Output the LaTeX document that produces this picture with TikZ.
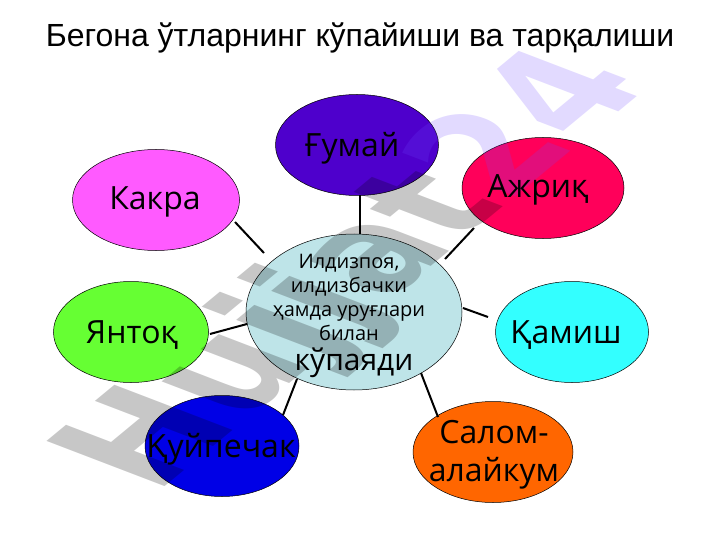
\documentclass[tikz,border=0pt]{standalone}
\usepackage{fontspec}
\setmainfont{Open Sans}
\newfontfamily\ttlfont{Liberation Sans}
\newfontfamily\wmfont{DejaVu Sans}
\usetikzlibrary{shapes.geometric}
\definecolor{cPurple}{RGB}{78,0,204}
\definecolor{cRed}{RGB}{255,0,90}
\definecolor{cPink}{RGB}{255,90,255}
\definecolor{cGreen}{RGB}{102,255,51}
\definecolor{cCyan}{RGB}{51,255,255}
\definecolor{cBlue}{RGB}{0,0,230}
\definecolor{cOrange}{RGB}{255,102,0}
\definecolor{cCentre}{RGB}{190,228,232}
\definecolor{cViolet}{RGB}{110,70,255}
\tikzset{
  blob/.style={ellipse,draw=black,line width=0.5pt,minimum height=101pt,inner sep=0pt},
  lbl/.style={text=black,align=center,inner sep=0pt,font=\fontsize{32}{34}\selectfont},
  small/.style={text=black,align=center,inner sep=0pt,font=\fontsize{20}{24}\selectfont},
  spoke/.style={draw=black,line width=2pt},
  wmk/.style={font=\wmfont\bfseries\fontsize{100}{100}\selectfont,anchor=base west,inner sep=0pt,transform shape}
}
\begin{document}
\begin{tikzpicture}[x=1pt,y=-1pt]
\useasboundingbox (0,0) rectangle (720,540);
\fill[white] (0,0) rectangle (720,540);
% ellipses
\node[blob,fill=cPurple,minimum width=163pt] (e1) at (357,145) {};
\node[blob,fill=cRed,minimum width=162pt] (e2) at (543,188) {};
\node[blob,fill=cPink,minimum width=167pt] (e3) at (156,200) {};
\node[blob,fill=cGreen,minimum width=155pt] (e4) at (131,332) {};
\node[blob,fill=cCyan,minimum width=153pt] (e5) at (572,332) {};
\node[blob,fill=cBlue,minimum width=154pt] (e6) at (222,446) {};
\node[blob,fill=cOrange,minimum width=160pt] (e7) at (493,452) {};
\node[blob,fill=cCentre,minimum width=216pt,minimum height=156pt] (c) at (354,312) {};
% spokes
\coordinate (s1a) at (360,195); \coordinate (s1b) at (360,234);
\coordinate (s2a) at (474,228); \coordinate (s2b) at (445,259);
\coordinate (s3a) at (235,222); \coordinate (s3b) at (264,253);
\coordinate (s4a) at (210,334); \coordinate (s4b) at (247,324);
\coordinate (s5a) at (488,317); \coordinate (s5b) at (463,308);
\coordinate (s6a) at (283,415); \coordinate (s6b) at (297,379);
\coordinate (s7a) at (438,417); \coordinate (s7b) at (421,373);
\foreach \n in {1,...,7}{\draw[spoke] (s\n a) -- (s\n b);}
% watermark
\begin{scope}[shift={(155,495)},cm={1.04,0.86,-1.62,0.62,(0,0)}]
\node[wmk,text=black,text opacity=0.22] (w1) at (0,0) {Hujjat};
\node[wmk,text=cViolet,text opacity=0.2,anchor=base west] (w2) at (w1.base east) {24};
\end{scope}
% labels
\node[inner sep=0pt,font=\ttlfont\fontsize{32}{34}\selectfont] (t) at (360,38) {Бегона ўтларнинг кўпайиши ва тарқалиши};
\node[lbl] (l1) at (352,148) {Ғумай};
\node[lbl] (l2) at (538,190) {Ажриқ};
\node[lbl] (l3) at (155,202) {Какра};
\node[lbl] (l4) at (132,335) {Янтоқ};
\node[lbl] (l5) at (566,335) {Қамиш};
\node[lbl] (l6) at (221,449) {Қуйпечак};
\node[lbl,font=\fontsize{32}{38}\selectfont] (l7) at (494,455) {Салом-\\алайкум};
\node[small] (l8) at (349,297) {Илдизпоя,\\илдизбачки\\ҳамда уруғлари\\билан};
\node[lbl,font=\fontsize{30}{32}\selectfont] (l9) at (354,363) {кўпаяди};
\end{tikzpicture}
\end{document}
